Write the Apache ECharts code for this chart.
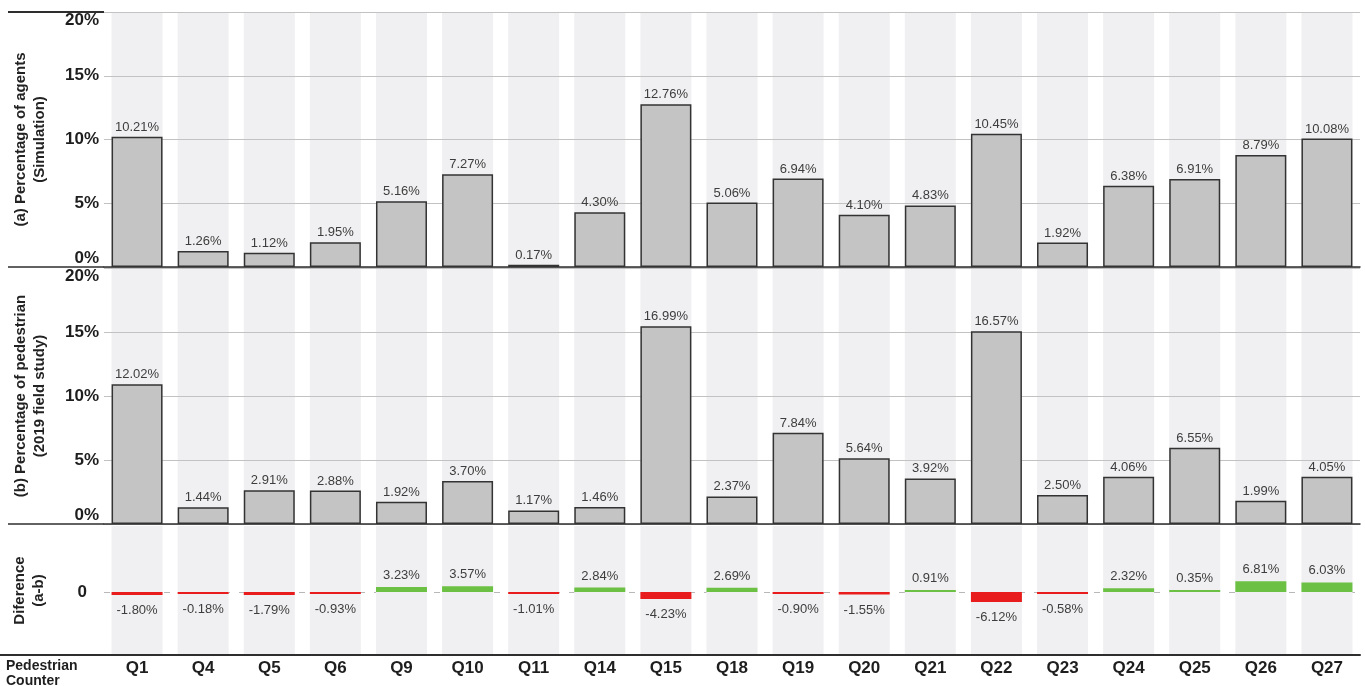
<!DOCTYPE html>
<html>
<head>
<meta charset="utf-8">
<title>Pedestrian counters: simulation vs field study</title>
<script src="https://cdn.jsdelivr.net/npm/echarts@6/dist/echarts.min.js"></script>
<style>
  html, body { margin: 0; padding: 0; background: #fff; }
  #chart { width: 1365px; height: 686px; }
</style>
</head>
<body>
<div id="chart"></div>
<script>
const counters = ['Q1', 'Q4', 'Q5', 'Q6', 'Q9', 'Q10', 'Q11', 'Q14', 'Q15', 'Q18', 'Q19', 'Q20', 'Q21', 'Q22', 'Q23', 'Q24', 'Q25', 'Q26', 'Q27']
const simulation = [10.21, 1.26, 1.12, 1.95, 5.16, 7.27, 0.17, 4.30, 12.76, 5.06, 6.94, 4.10, 4.83, 10.45, 1.92, 6.38, 6.91, 8.79, 10.08]
const fieldStudy = [12.02, 1.44, 2.91, 2.88, 1.92, 3.70, 1.17, 1.46, 16.99, 2.37, 7.84, 5.64, 3.92, 16.57, 2.50, 4.06, 6.55, 1.99, 4.05]
const difference = [-1.80, -0.18, -1.79, -0.93, 3.23, 3.57, -1.01, 2.84, -4.23, 2.69, -0.90, -1.55, 0.91, -6.12, -0.58, 2.32, 0.35, 6.81, 6.03]
const pctTicks = ['0%', '5%', '10%', '15%', '20%']

const FONT = '"Liberation Sans", Arial, Helvetica, sans-serif'
const LEFT = 104
const RIGHT = 5
const panels = [
  { top: 12, height: 255 },   // (a)
  { top: 268, height: 256 },  // (b)
  { top: 526, height: 129 }   // difference
]
const BAND = '#f0f0f2'
const GRID_LINE = '#c2c2c2'
const DARK = '#2e2e2e'
const BAR_W = 51

const pctLabel = (p) => p.value.toFixed(2) + '%'

function xAxisFor(i, showLabels) {
  return {
    type: 'category',
    gridIndex: i,
    data: counters,
    axisTick: { show: false },
    axisLine: { onZero: false, lineStyle: { color: DARK, width: i === 2 ? 2 : 1.5 } },
    axisLabel: {
      show: showLabels,
      margin: 5,
      color: '#1e1e1e',
      fontFamily: FONT,
      fontWeight: 'bold',
      fontSize: 17
    },
    z: 3
  }
}

function pctAxis(i, name, max, interval) {
  return {
    type: 'value',
    gridIndex: i,
    min: 0,
    max: max,
    interval: interval,
    name: name,
    nameLocation: 'middle',
    nameRotate: 90,
    nameGap: 55,
    nameTextStyle: { fontFamily: FONT, fontWeight: 'bold', fontSize: 15, lineHeight: 19, color: '#222' },
    axisLine: { show: false },
    axisTick: { show: false },
    axisLabel: {
      margin: 5,
      color: '#1e1e1e',
      fontFamily: FONT,
      fontWeight: 'bold',
      fontSize: 17,
      verticalAlignMinLabel: 'bottom',
      verticalAlignMaxLabel: 'top',
      formatter: (v) => pctTicks[Math.round(v / interval)]
    },
    splitLine: { lineStyle: { color: GRID_LINE, width: 1.2 } },
    z: 3
  }
}

// light column behind every counter, drawn below the grid lines
function bandSeries(i, data, extra) {
  return Object.assign({
    type: 'bar',
    xAxisIndex: i,
    yAxisIndex: i,
    data: data,
    barWidth: BAR_W,
    silent: true,
    showBackground: true,
    backgroundStyle: { color: BAND },
    itemStyle: { color: 'rgba(0,0,0,0)' },
    z: 1
  }, extra || {})
}

function greyBars(i, data) {
  return {
    type: 'bar',
    xAxisIndex: i,
    yAxisIndex: i,
    data: data,
    barWidth: BAR_W,
    barGap: '-100%',
    itemStyle: { color: '#c4c4c5', borderColor: '#333', borderWidth: 1.5 },
    label: {
      show: true,
      position: 'top',
      distance: 3,
      color: '#3d3d3d',
      fontFamily: FONT,
      fontSize: 13,
      formatter: pctLabel
    },
    z: 4
  }
}

function getOption() {
  const diffData = difference.map((v) => ({
    value: v,
    itemStyle: { color: v < 0 ? '#e81c1c' : '#6cc043' },
    label: { position: v < 0 ? 'bottom' : 'top', distance: v < 0 ? 9 : 5 }
  }))

  return {
    animation: false,
    backgroundColor: '#fff',
    grid: panels.map((p) => ({ left: LEFT, right: RIGHT, top: p.top, height: p.height })),
    xAxis: [xAxisFor(0, false), xAxisFor(1, false), xAxisFor(2, true)],
    yAxis: [
      pctAxis(0, '(a) Percentage of agents\n(Simulation)', 20, 5),
      // the reference draws panel (b) ticks 10% further apart than panel (a)
      pctAxis(1, '(b) Percentage of pedestrian\n(2019 field study)', 22, 5.5),
      {
        type: 'value',
        gridIndex: 2,
        min: -39,
        max: 41,
        interval: 39,
        name: 'Diference\n(a-b)',
        nameLocation: 'middle',
        nameRotate: 90,
        nameGap: 56,
        nameTextStyle: { fontFamily: FONT, fontWeight: 'bold', fontSize: 15, lineHeight: 19, color: '#222' },
        axisLine: { show: false },
        axisTick: { show: false },
        splitLine: { show: false },
        axisLabel: {
          margin: 17,
          color: '#1e1e1e',
          fontFamily: FONT,
          fontWeight: 'bold',
          fontSize: 17,
          formatter: (v) => (v === 0 ? '0' : '')
        }
      }
    ],
    series: [
      bandSeries(0, simulation),
      greyBars(0, simulation),
      bandSeries(1, fieldStudy),
      greyBars(1, fieldStudy),
      bandSeries(2, difference, {
        // dashed zero line, kept under the coloured bars
        markLine: {
          z: 1,
          silent: true,
          symbol: 'none',
          label: { show: false },
          lineStyle: { color: '#b8b8b8', type: [6, 9], width: 1 },
          data: [{ yAxis: 0 }]
        }
      }),
      {
        type: 'bar',
        xAxisIndex: 2,
        yAxisIndex: 2,
        data: diffData,
        barWidth: BAR_W,
        barGap: '-100%',
        barMinHeight: 2,
        label: {
          show: true,
          color: '#3d3d3d',
          fontFamily: FONT,
          fontSize: 13,
          formatter: pctLabel
        },
        z: 4
      }
    ],
    graphic: [
      // panel separators carried out to the left edge
      { type: 'line', shape: { x1: 8, y1: 12, x2: LEFT, y2: 12 }, style: { stroke: DARK, lineWidth: 2 } },
      { type: 'line', shape: { x1: 8, y1: 267, x2: LEFT, y2: 267 }, style: { stroke: DARK, lineWidth: 1.5 } },
      { type: 'line', shape: { x1: 8, y1: 524, x2: LEFT, y2: 524 }, style: { stroke: DARK, lineWidth: 1.5 } },
      { type: 'line', shape: { x1: 0, y1: 655, x2: LEFT, y2: 655 }, style: { stroke: DARK, lineWidth: 2 } },
      {
        type: 'text',
        left: 6,
        top: 659,
        style: {
          text: 'Pedestrian\nCounter',
          fill: '#1e1e1e',
          font: 'bold 14px ' + FONT,
          lineHeight: 15
        }
      }
    ]
  }
}

const chart = echarts.init(document.getElementById('chart'))
chart.setOption(getOption())
window.addEventListener('resize', () => chart.resize())
</script>
</body>
</html>
